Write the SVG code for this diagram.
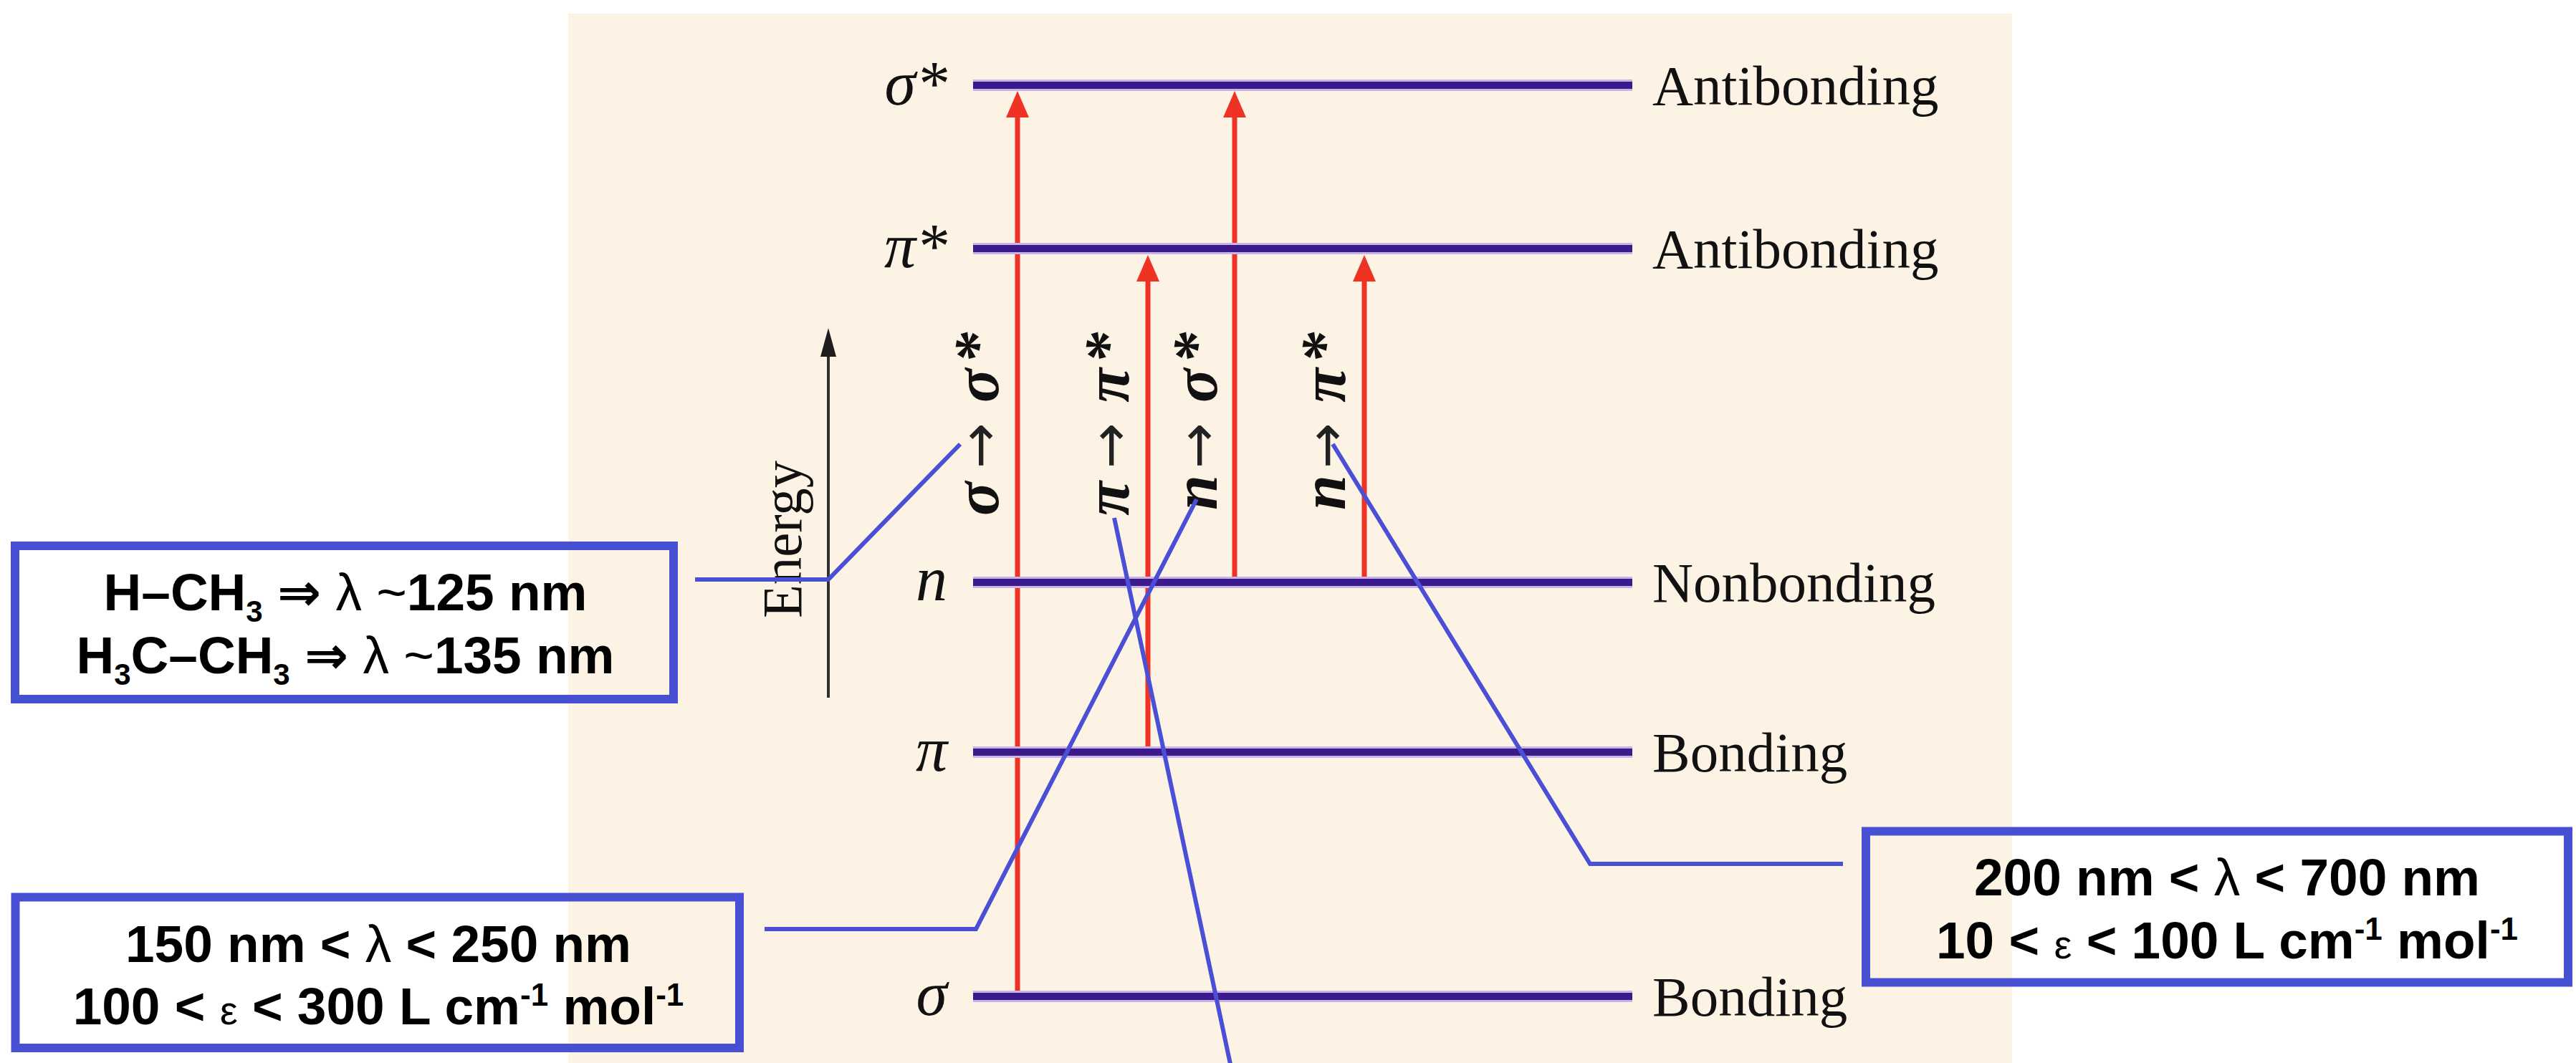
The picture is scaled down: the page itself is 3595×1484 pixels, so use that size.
<svg xmlns="http://www.w3.org/2000/svg" width="3595" height="1484" viewBox="0 0 3595 1484">
<style>
.halo{stroke:#c9b4ea;stroke-width:16;fill:none}
.lvl{stroke:#3d1a8c;stroke-width:10;fill:none}
.red{stroke:#ee3325;stroke-width:7;fill:none}
.redhead{fill:#ee3325}
.conn{stroke:#4a4fd6;stroke-width:6;fill:none;stroke-linejoin:miter}
.box{fill:none;stroke:#4750d3;stroke-width:12}
.lab{font-family:"Liberation Serif","Times New Roman",serif;font-size:79px;fill:#111}
.orb{font-family:"Liberation Serif","Times New Roman",serif;font-style:italic;font-size:88px;fill:#111}
.tr{font-family:"Liberation Serif","Times New Roman",serif;font-style:italic;font-weight:bold;font-size:88px;fill:#111}
.arr{font-family:"DejaVu Sans",sans-serif;font-style:normal;font-weight:normal;font-size:76px;fill:#222}
.bx{font-family:"Liberation Sans",Arial,"DejaVu Sans",sans-serif;font-weight:bold;font-size:73px;fill:#000}
.thin{font-weight:normal}
</style>
<rect x="0" y="0" width="3595" height="1484" fill="#ffffff"/>
<rect x="793" y="19" width="2015" height="1465" fill="#fdf3e5"/>

<g id="energy-axis">
  <line x1="1156" y1="974" x2="1156" y2="492" stroke="#2e2e2e" stroke-width="4"/>
  <polygon points="1156,458 1145,498 1167,498" fill="#1e1e1e"/>
  <text class="lab" font-size="80" transform="translate(1118,863) rotate(-90)" textLength="220" lengthAdjust="spacingAndGlyphs">Energy</text>
</g>

<g id="transitions">
  <line class="red" x1="1420" y1="1391" x2="1420" y2="150"/>
  <polygon class="redhead" points="1420,127 1404,164 1436,164"/>
  <line class="red" x1="1602" y1="1050" x2="1602" y2="380"/>
  <polygon class="redhead" points="1602,356 1586,393 1618,393"/>
  <line class="red" x1="1723" y1="813" x2="1723" y2="150"/>
  <polygon class="redhead" points="1723,127 1707,164 1739,164"/>
  <line class="red" x1="1904" y1="813" x2="1904" y2="380"/>
  <polygon class="redhead" points="1904,356 1888,393 1920,393"/>
</g>

<g id="level-sigma-star">
  <line class="halo" x1="1358" y1="119" x2="2278" y2="119"/>
  <line class="lvl" x1="1358" y1="119" x2="2278" y2="119"/>
  <text class="orb" x="1322" y="146" text-anchor="end">σ*</text>
  <text class="lab" x="2306" y="146">Antibonding</text>
</g>
<g id="level-pi-star">
  <line class="halo" x1="1358" y1="347" x2="2278" y2="347"/>
  <line class="lvl" x1="1358" y1="347" x2="2278" y2="347"/>
  <text class="orb" x="1322" y="373" text-anchor="end">π*</text>
  <text class="lab" x="2306" y="374">Antibonding</text>
</g>
<g id="level-n">
  <line class="halo" x1="1358" y1="813" x2="2278" y2="813"/>
  <line class="lvl" x1="1358" y1="813" x2="2278" y2="813"/>
  <text class="orb" x="1322" y="838" text-anchor="end">n</text>
  <text class="lab" x="2306" y="840">Nonbonding</text>
</g>
<g id="level-pi">
  <line class="halo" x1="1358" y1="1050" x2="2278" y2="1050"/>
  <line class="lvl" x1="1358" y1="1050" x2="2278" y2="1050"/>
  <text class="orb" x="1322" y="1076" text-anchor="end">π</text>
  <text class="lab" x="2306" y="1077">Bonding</text>
</g>
<g id="level-sigma">
  <line class="halo" x1="1358" y1="1391" x2="2278" y2="1391"/>
  <line class="lvl" x1="1358" y1="1391" x2="2278" y2="1391"/>
  <text class="orb" x="1322" y="1417" text-anchor="end">σ</text>
  <text class="lab" x="2306" y="1418">Bonding</text>
</g>

<g id="label-s-s">
  <text class="tr" transform="translate(1393,720) rotate(-90)"><tspan x="0">σ</tspan><tspan class="arr" x="66">→</tspan><tspan x="158">σ</tspan><tspan x="212">*</tspan></text>
</g>
<g id="label-p-p">
  <text class="tr" transform="translate(1575,720) rotate(-90)"><tspan x="0">π</tspan><tspan class="arr" x="66">→</tspan><tspan x="158">π</tspan><tspan x="212">*</tspan></text>
</g>
<g id="label-n-s">
  <text class="tr" transform="translate(1698,720) rotate(-90)"><tspan x="8">n</tspan><tspan class="arr" x="66">→</tspan><tspan x="158">σ</tspan><tspan x="212">*</tspan></text>
</g>
<g id="label-n-p">
  <text class="tr" transform="translate(1877,720) rotate(-90)"><tspan x="8">n</tspan><tspan class="arr" x="66">→</tspan><tspan x="158">π</tspan><tspan x="212">*</tspan></text>
</g>

<g id="box-alkane">
  <rect class="box" x="21" y="762" width="919" height="214"/>
  <text class="bx" x="482" y="852" text-anchor="middle">H–CH<tspan font-size="42" dy="16">3</tspan><tspan dy="-16"> ⇒ </tspan><tspan class="thin">λ ~</tspan>125 nm</text>
  <text class="bx" x="482" y="940" text-anchor="middle">H<tspan font-size="42" dy="16">3</tspan><tspan dy="-16">C–CH</tspan><tspan font-size="42" dy="16">3</tspan><tspan dy="-16"> ⇒ </tspan><tspan class="thin">λ ~</tspan>135 nm</text>
</g>

<g id="box-n-sigma">
  <rect class="box" x="21.5" y="1252.5" width="1010.5" height="210.5"/>
  <text class="bx" x="528" y="1343" text-anchor="middle">150 nm &lt; <tspan class="thin">λ</tspan> &lt; 250 nm</text>
  <text class="bx" x="528" y="1430" text-anchor="middle">100 &lt; <tspan class="thin" font-size="56">ε</tspan> &lt; 300 L cm<tspan font-size="44" dy="-26">-1</tspan><tspan dy="26"> mol</tspan><tspan font-size="44" dy="-26">-1</tspan></text>
</g>

<g id="box-n-pi">
  <rect class="box" x="2604" y="1160.5" width="980" height="211"/>
  <text class="bx" x="3108" y="1250" text-anchor="middle">200 nm &lt; <tspan class="thin">λ</tspan> &lt; 700 nm</text>
  <text class="bx" x="3108" y="1338" text-anchor="middle">10 &lt; <tspan class="thin" font-size="56">ε</tspan> &lt; 100 L cm<tspan font-size="44" dy="-26">-1</tspan><tspan dy="26"> mol</tspan><tspan font-size="44" dy="-26">-1</tspan></text>
</g>

<g id="connectors">
  <polyline class="conn" points="970,809 1156,809 1340,620"/>
  <polyline class="conn" points="1067,1297 1362,1297 1670,697"/>
  <line class="conn" x1="1555" y1="723" x2="1718" y2="1490"/>
  <polyline class="conn" points="1860,620 2219,1206 2572,1206"/>
</g>
</svg>
